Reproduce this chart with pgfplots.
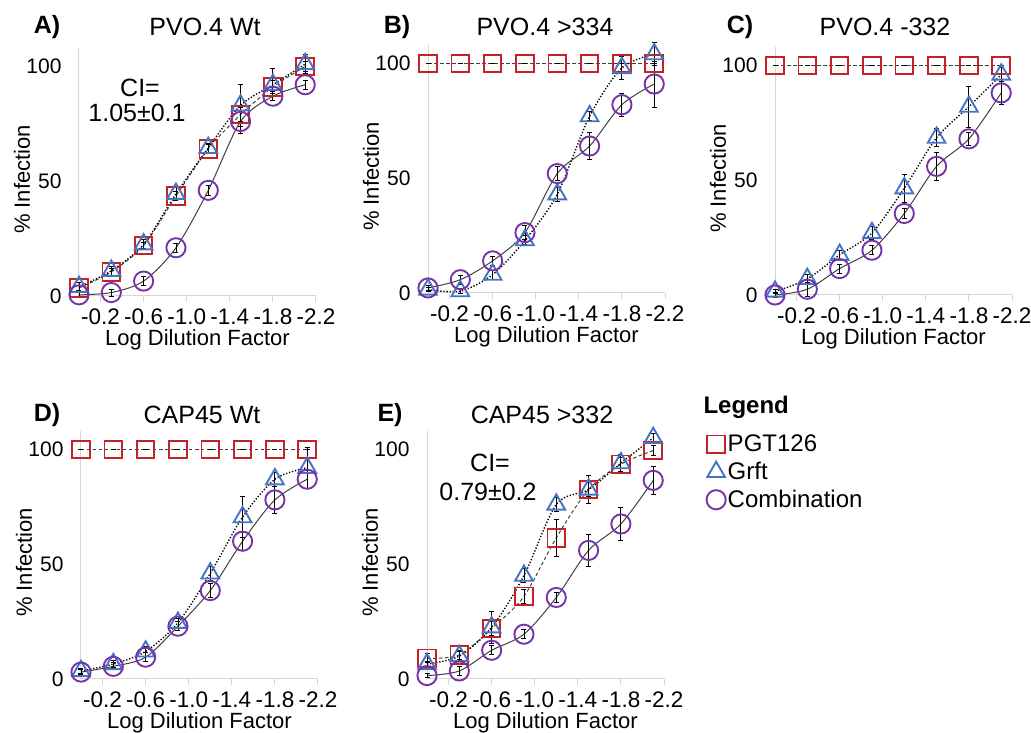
\documentclass[border=0pt]{standalone}
\usepackage{fontspec}
\setmainfont{Liberation Sans}
\usepackage{pgfplots}
\pgfplotsset{compat=1.18}
\definecolor{pgtred}{RGB}{196,34,40}
\definecolor{grftblue}{RGB}{70,116,196}
\definecolor{combpurple}{RGB}{118,52,168}
\definecolor{axisgray}{RGB}{214,214,214}
\definecolor{linegray}{RGB}{64,64,64}
\pgfplotsset{
 panel/.style={
  scale only axis, width=237pt, height=248pt,
  xmin=-2.2, xmax=0, x dir=reverse, ymin=0, ymax=108,
  axis x line=bottom, axis y line=left,
  axis line style={draw=axisgray, line width=1pt, -},
  xtick={-0.2,-0.6,-1.0,-1.4,-1.8,-2.2},
  xticklabels={-0.2,-0.6,-1.0,-1.4,-1.8,-2.2},
  ytick={0,50,100}, yticklabels={0,50,100},
  tick align=outside, major tick length=6pt,
  x tick style={draw=axisgray, line width=1pt},
  y tick style={draw=none},
  tick label style={font=\fontsize{21}{24}\selectfont, text=black},
  xticklabel style={yshift=-3pt, font=\fontsize{22.5}{24}\selectfont},
  yticklabel style={xshift=-8pt},
  label style={font=\fontsize{22}{26}\selectfont},
  xlabel={Log Dilution Factor}, ylabel={\% Infection},
  xlabel style={at={(axis description cs:0.5,-0.178)}, anchor=center},
  ylabel style={at={(axis description cs:-0.24,0.47)}, anchor=center},
  clip=false,
 },
 pgtline/.style={smooth, no marks, draw=linegray, line width=1pt, dash pattern=on 3.5pt off 2.5pt},
 grftline/.style={smooth, no marks, draw=black, line width=1.4pt, dash pattern=on 1.3pt off 1.8pt},
 combline/.style={smooth, no marks, draw=linegray, line width=1pt},
 errs/.style={error bars/.cd, y dir=both, y explicit,
   error bar style={black, line width=0.9pt},
   error mark options={rotate=90, mark size=2.5pt, black, line width=0.9pt}},
 pgtmark/.style={only marks, mark=square, mark size=8.8pt, mark options={draw=pgtred, line width=1.9pt, fill=none}, errs},
 grftmark/.style={only marks, mark=triangle, mark size=10.2pt, mark options={draw=grftblue, line width=1.9pt, fill=none}, errs},
 combmark/.style={only marks, mark=o, mark size=9.6pt, mark options={draw=combpurple, line width=1.9pt, fill=none}, errs},
}
\newcommand{\tfont}{\fontsize{25}{28}\selectfont}
\begin{document}
\begin{tikzpicture}
\useasboundingbox (0,0) rectangle (1031pt,733pt);
% ---------- A ----------
\begin{axis}[panel, at={(79pt,437pt)}, anchor=south west]
\addplot[pgtline] table[row sep=\\]{x y\\ 0 3.5\\ -0.3 10.5\\ -0.6 22\\ -0.9 43.5\\ -1.2 64\\ -1.5 79\\ -1.8 91\\ -2.1 100\\};
\addplot[grftline] table[row sep=\\]{x y\\ 0 4\\ -0.3 11\\ -0.6 22.5\\ -0.9 44.5\\ -1.2 64.5\\ -1.5 83\\ -1.8 92\\ -2.1 101\\};
\addplot[combline] table[row sep=\\]{x y\\ 0 0.5\\ -0.3 1.5\\ -0.6 6.5\\ -0.9 21\\ -1.2 46\\ -1.5 76\\ -1.8 87\\ -2.1 92\\};
\addplot[pgtmark] table[x=x,y=y,y error=e,row sep=\\]{x y e\\ 0 3.5 1\\ -0.3 10.5 1.5\\ -0.6 22 1.5\\ -0.9 43.5 2\\ -1.2 64 2\\ -1.5 79 3\\ -1.8 91 3\\ -2.1 100 2\\};
\addplot[grftmark] table[x=x,y=y,y error=e,row sep=\\]{x y e\\ 0 4 2\\ -0.3 11 2\\ -0.6 22.5 2\\ -0.9 44.5 3\\ -1.2 64.5 2\\ -1.5 83 9\\ -1.8 92 7\\ -2.1 101 4\\};
\addplot[combmark] table[x=x,y=y,y error=e,row sep=\\]{x y e\\ 0 0.5 1\\ -0.3 1.5 1.5\\ -0.6 6.5 2\\ -0.9 21 2\\ -1.2 46 2\\ -1.5 76 5\\ -1.8 87 2\\ -2.1 92 2\\};
\end{axis}
% ---------- B ----------
\begin{axis}[panel, at={(428pt,440pt)}, anchor=south west]
\addplot[pgtline] table[row sep=\\]{x y\\ 0 100\\ -0.3 100\\ -0.6 100\\ -0.9 100\\ -1.2 100\\ -1.5 100\\ -1.8 100\\ -2.1 100\\};
\addplot[grftline] table[row sep=\\]{x y\\ 0 1.5\\ -0.3 0.8\\ -0.6 8\\ -0.9 23\\ -1.2 43\\ -1.5 77\\ -1.8 98\\ -2.1 104\\};
\addplot[combline] table[row sep=\\]{x y\\ 0 2.2\\ -0.3 5.8\\ -0.6 14\\ -0.9 26.3\\ -1.2 52\\ -1.5 64\\ -1.8 82\\ -2.1 91\\};
\addplot[pgtmark] table[x=x,y=y,y error=e,row sep=\\]{x y e\\ 0 100 0\\ -0.3 100 0\\ -0.6 100 0\\ -0.9 100 0\\ -1.2 100 0\\ -1.5 100 0\\ -1.8 100 0\\ -2.1 100 0\\};
\addplot[grftmark] table[x=x,y=y,y error=e,row sep=\\]{x y e\\ 0 1.5 1\\ -0.3 0.8 1\\ -0.6 8 2\\ -0.9 23 2\\ -1.2 43 3\\ -1.5 77 2\\ -1.8 98 5\\ -2.1 104 5\\};
\addplot[combmark] table[x=x,y=y,y error=e,row sep=\\]{x y e\\ 0 2.2 1\\ -0.3 5.8 2\\ -0.6 14 2\\ -0.9 26.3 3\\ -1.2 52 3\\ -1.5 64 6\\ -1.8 82 5\\ -2.1 91 10\\};
\end{axis}
% ---------- C ----------
\begin{axis}[panel, at={(775pt,438pt)}, anchor=south west]
\addplot[pgtline] table[row sep=\\]{x y\\ 0 100\\ -0.3 100\\ -0.6 100\\ -0.9 100\\ -1.2 100\\ -1.5 100\\ -1.8 100\\ -2.1 100\\};
\addplot[grftline] table[row sep=\\]{x y\\ 0 1.5\\ -0.3 7\\ -0.6 17.5\\ -0.9 27\\ -1.2 46.5\\ -1.5 68.5\\ -1.8 82\\ -2.1 96\\};
\addplot[combline] table[row sep=\\]{x y\\ 0 0\\ -0.3 2.5\\ -0.6 11.5\\ -0.9 19.5\\ -1.2 35.5\\ -1.5 56\\ -1.8 68\\ -2.1 88\\};
\addplot[pgtmark] table[x=x,y=y,y error=e,row sep=\\]{x y e\\ 0 100 0\\ -0.3 100 0\\ -0.6 100 0\\ -0.9 100 0\\ -1.2 100 0\\ -1.5 100 0\\ -1.8 100 0\\ -2.1 100 0\\};
\addplot[grftmark] table[x=x,y=y,y error=e,row sep=\\]{x y e\\ 0 1.5 1\\ -0.3 7 2\\ -0.6 17.5 2\\ -0.9 27 3\\ -1.2 46.5 6\\ -1.5 68.5 4\\ -1.8 82 9\\ -2.1 96 3\\};
\addplot[combmark] table[x=x,y=y,y error=e,row sep=\\]{x y e\\ 0 0 1\\ -0.3 2.5 3\\ -0.6 11.5 2\\ -0.9 19.5 2\\ -1.2 35.5 2\\ -1.5 56 6\\ -1.8 68 3\\ -2.1 88 5\\};
\end{axis}
% ---------- D ----------
\begin{axis}[panel, at={(81pt,54pt)}, anchor=south west,
  xticklabel style={yshift=0pt},
  xlabel style={at={(axis description cs:0.5,-0.176)}, anchor=center}]
\addplot[pgtline] table[row sep=\\]{x y\\ 0 100\\ -0.3 100\\ -0.6 100\\ -0.9 100\\ -1.2 100\\ -1.5 100\\ -1.8 100\\ -2.1 100\\};
\addplot[grftline] table[row sep=\\]{x y\\ 0 3.5\\ -0.3 6.5\\ -0.6 12\\ -0.9 24.5\\ -1.2 46\\ -1.5 70.5\\ -1.8 87\\ -2.1 92\\};
\addplot[combline] table[row sep=\\]{x y\\ 0 3\\ -0.3 5.5\\ -0.6 9.5\\ -0.9 23\\ -1.2 38.5\\ -1.5 60\\ -1.8 78\\ -2.1 87\\};
\addplot[pgtmark] table[x=x,y=y,y error=e,row sep=\\]{x y e\\ 0 100 0\\ -0.3 100 0\\ -0.6 100 0\\ -0.9 100 0\\ -1.2 100 0\\ -1.5 100 0\\ -1.8 100 0\\ -2.1 100 0\\};
\addplot[grftmark] table[x=x,y=y,y error=e,row sep=\\]{x y e\\ 0 3.5 1\\ -0.3 6.5 1.5\\ -0.6 12 2\\ -0.9 24.5 2\\ -1.2 46 3\\ -1.5 70.5 9\\ -1.8 87 3\\ -2.1 92 9\\};
\addplot[combmark] table[x=x,y=y,y error=e,row sep=\\]{x y e\\ 0 3 1\\ -0.3 5.5 1.5\\ -0.6 9.5 2\\ -0.9 23 2\\ -1.2 38.5 3\\ -1.5 60 4\\ -1.8 78 6\\ -2.1 87 4\\};
\end{axis}
% ---------- E ----------
\begin{axis}[panel, at={(427pt,54pt)}, anchor=south west,
  xticklabel style={yshift=0pt},
  xlabel style={at={(axis description cs:0.5,-0.176)}, anchor=center},
  legend style={at={(axis description cs:1.166,1.0)}, anchor=north west, draw=none, fill=none,
    font=\fontsize{24}{28}\selectfont, legend cell align=left, row sep=5pt,
    /tikz/every even column/.append style={column sep=0pt}}]
\addplot[pgtline, forget plot] table[row sep=\\]{x y\\ 0 9\\ -0.3 10.5\\ -0.6 22\\ -0.9 36\\ -1.2 61.5\\ -1.5 82.5\\ -1.8 93.5\\ -2.1 99.5\\};
\addplot[grftline, forget plot] table[row sep=\\]{x y\\ 0 6.5\\ -0.3 10\\ -0.6 22.5\\ -0.9 45\\ -1.2 76\\ -1.5 82.5\\ -1.8 94\\ -2.1 105\\};
\addplot[combline, forget plot] table[row sep=\\]{x y\\ 0 1.5\\ -0.3 3.5\\ -0.6 12.5\\ -0.9 19.5\\ -1.2 35.5\\ -1.5 56\\ -1.8 67.5\\ -2.1 86.5\\};
\addplot[pgtmark] table[x=x,y=y,y error=e,row sep=\\]{x y e\\ 0 9 2\\ -0.3 10.5 2\\ -0.6 22 3\\ -0.9 36 3\\ -1.2 61.5 8\\ -1.5 82.5 3\\ -1.8 93.5 3\\ -2.1 99.5 2\\};
\addlegendentry{PGT126}
\addplot[grftmark] table[x=x,y=y,y error=e,row sep=\\]{x y e\\ 0 6.5 1\\ -0.3 10 2\\ -0.6 22.5 7\\ -0.9 45 3\\ -1.2 76 3\\ -1.5 82.5 6\\ -1.8 94 4\\ -2.1 105 2\\};
\addlegendentry{Grft}
\addplot[combmark] table[x=x,y=y,y error=e,row sep=\\]{x y e\\ 0 1.5 1\\ -0.3 3.5 2\\ -0.6 12.5 2\\ -0.9 19.5 2\\ -1.2 35.5 2\\ -1.5 56 7\\ -1.8 67.5 7\\ -2.1 86.5 6\\};
\addlegendentry{Combination}
\end{axis}
% ---------- titles and notes ----------
\node[font=\bfseries\tfont] at (47pt,706pt) {A)};
\node[font=\tfont] at (205pt,706pt) {PVO.4 Wt};
\node[font=\bfseries\tfont] at (397pt,706pt) {B)};
\node[font=\tfont] at (545pt,706pt) {PVO.4 >334};
\node[font=\bfseries\tfont] at (740pt,706pt) {C)};
\node[font=\tfont] at (885pt,706pt) {PVO.4 -332};
\node[font=\bfseries\tfont] at (47pt,318pt) {D)};
\node[font=\tfont] at (202pt,318pt) {CAP45 Wt};
\node[font=\bfseries\tfont] at (390pt,318pt) {E)};
\node[font=\tfont] at (542pt,318pt) {CAP45 >332};
\node[font=\tfont] at (140pt,645pt) {CI=};
\node[font=\tfont] at (137pt,620pt) {1.05±0.1};
\node[font=\tfont] at (490pt,270pt) {CI=};
\node[font=\tfont] at (488pt,241pt) {0.79±0.2};
\node[font=\bfseries\fontsize{24}{28}\selectfont, anchor=west] at (700pt,326pt) {Legend};
\end{tikzpicture}
\end{document}
